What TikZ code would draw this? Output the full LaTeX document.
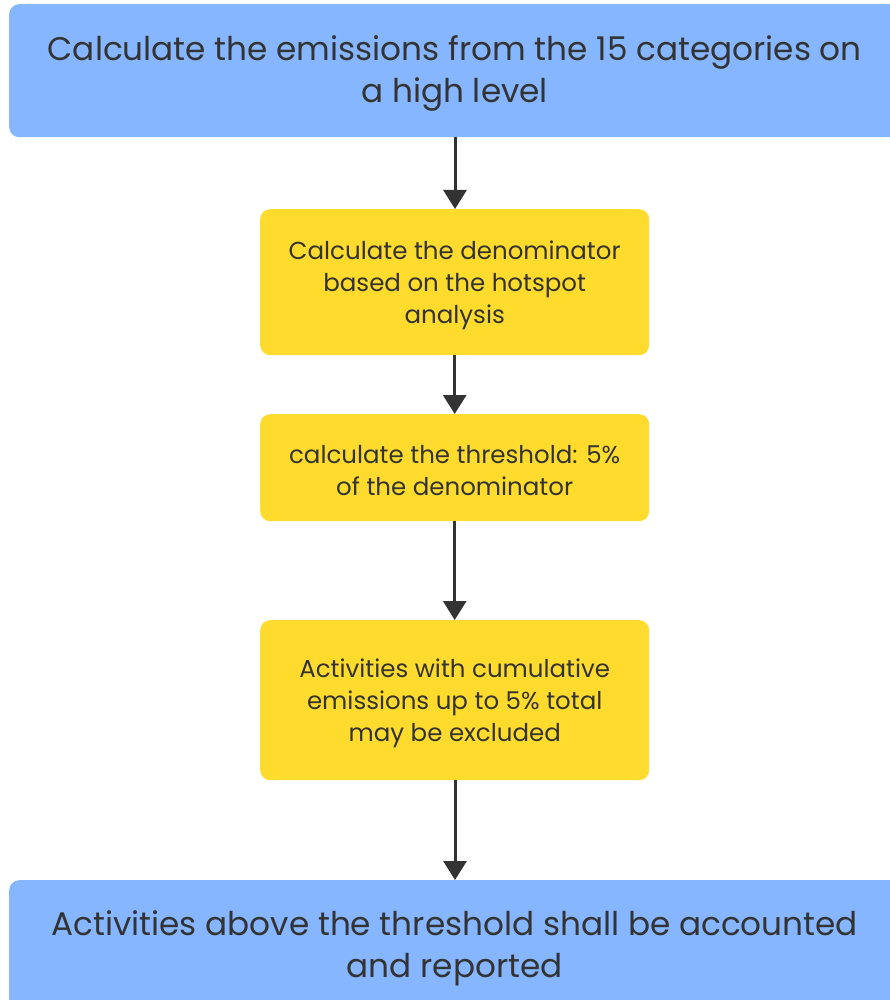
\documentclass[tikz,border=0pt]{standalone}
\usepackage{fontspec}
\setmainfont{Poppins}
\usetikzlibrary{arrows.meta}
\definecolor{boxblue}{HTML}{85B6FF}
\definecolor{boxyellow}{HTML}{FFDB2E}
\definecolor{ink}{HTML}{333333}
\begin{document}
\begin{tikzpicture}[x=1pt,y=-1pt,
  bluebox/.style={fill=boxblue, rounded corners=10pt, anchor=north west,
    minimum width=891pt, inner sep=0pt},
  yellowbox/.style={fill=boxyellow, rounded corners=10pt, anchor=north west,
    minimum width=389pt, inner sep=0pt},
  boxtext/.style={text=ink, align=center, inner sep=0pt, yshift=-3pt},
  bigtext/.style={boxtext, font=\fontsize{32.7}{42}\selectfont},
  smalltext/.style={boxtext, font=\fontsize{24.5}{32}\selectfont},
  flow/.style={draw=ink, line width=3pt,
    -{Triangle[width=23pt,length=19pt]}}]
\useasboundingbox (0,0) rectangle (889,1000);

% process boxes, top to bottom
\node[bluebox, minimum height=133pt] (calc) at (9,4) {};
\node[bigtext] (calc-t) at (calc.center)
  {Calculate the emissions from the 15 categories on\\a high level};

\node[yellowbox, minimum height=146pt] (denom) at (260,209) {};
\node[smalltext] (denom-t) at (denom.center)
  {Calculate the denominator\\based on the hotspot\\analysis};

\node[yellowbox, minimum height=107pt] (thresh) at (260,414) {};
\node[smalltext] (thresh-t) at (thresh.center)
  {calculate the threshold: 5\%\\of the denominator};

\node[yellowbox, minimum height=160pt] (excl) at (260,620) {};
\node[smalltext] (excl-t) at (excl.center)
  {Activities with cumulative\\emissions up to 5\% total\\may be excluded};

\node[bluebox, minimum height=130pt] (report) at (9,880) {};
\node[bigtext] (report-t) at (report.center)
  {Activities above the threshold shall be accounted\\and reported};

% connectors
\coordinate (c1) at (455,137);
\draw[flow] (c1) -- (c1 |- denom.north);
\draw[flow] (denom) -- (thresh);
\draw[flow] (thresh) -- (excl);
\draw[flow] (excl.south -| c1) -- (c1 |- report.north);
\end{tikzpicture}
\end{document}
